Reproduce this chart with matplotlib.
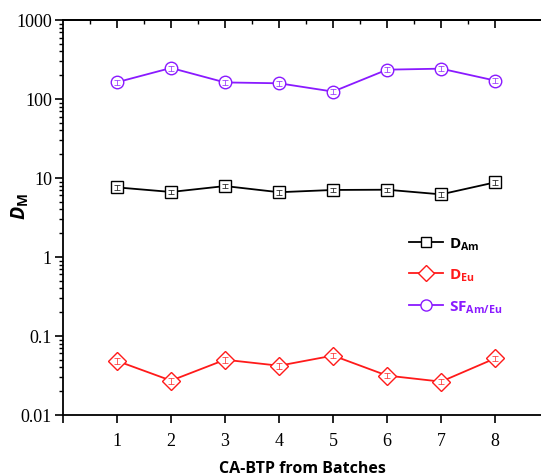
import numpy as np
import matplotlib.pyplot as plt
from matplotlib.lines import Line2D
from matplotlib.ticker import LogLocator, NullFormatter, FixedLocator

plt.rcParams["mathtext.fontset"] = "custom"
plt.rcParams["mathtext.rm"] = "Open Sans"
plt.rcParams["mathtext.bf"] = "Open Sans:bold"
plt.rcParams["mathtext.it"] = "Open Sans:italic"
plt.rcParams["mathtext.bfit"] = "Open Sans:bold:italic"

# ── data ──
batches = [1, 2, 3, 4, 5, 6, 7, 8]
d_am = [7.6, 6.65, 7.9, 6.6, 7.05, 7.1, 6.2, 8.8]
d_am_err = [0.5, 0.45, 0.5, 0.45, 0.45, 0.45, 0.4, 0.55]
d_eu = [0.0483, 0.0272, 0.050, 0.042, 0.0564, 0.0315, 0.0264, 0.052]
d_eu_err = [0.004, 0.0022, 0.004, 0.0034, 0.0045, 0.0025, 0.0021, 0.0042]
sf = [163, 247, 162, 158, 124, 235, 242, 171]
sf_err = [12, 18, 12, 12, 9, 17, 18, 13]

ytick_vals = [0.01, 0.1, 1, 10, 100, 1000]
ytick_labels = ["0.01", "0.1", "1", "10", "100", "1000"]

series = [
    (d_am, d_am_err, "black", "s", 8, r"$\mathbf{D_{Am}}$"),
    (d_eu, d_eu_err, "#ff1a1a", "D", 9, r"$\mathbf{D_{Eu}}$"),
    (sf, sf_err, "#8a1aff", "o", 9, r"$\mathbf{SF_{Am/Eu}}$"),
]

fig = plt.figure(figsize=(5.41, 4.77), dpi=100)
ax = fig.add_axes([0.1165, 0.128, 0.8835, 0.828])

for vals, err, col, mk, ms, lab in series:
    ax.plot(batches, vals, "-", color=col, lw=1.3, zorder=2)
    ax.plot(batches, vals, mk, ms=ms, mfc="white", mec=col, mew=1.0, zorder=3)
    ax.errorbar(batches, vals, yerr=err, fmt="none", ecolor=col, elinewidth=0.7,
                capsize=2.5, capthick=0.7, alpha=0.7, zorder=4)

ax.set_yscale("log")
ax.set_ylim(0.01, 1000)
ax.set_xlim(0, 8.85)
ax.yaxis.set_major_locator(FixedLocator(ytick_vals))
ax.set_yticklabels(ytick_labels)
ax.yaxis.set_minor_locator(LogLocator(base=10, subs=np.arange(2, 10)))
ax.yaxis.set_minor_formatter(NullFormatter())
ax.set_xticks([0] + batches)
ax.set_xticklabels([""] + [str(b) for b in batches])

ax.spines["right"].set_visible(False)
for s in ("left", "bottom", "top"):
    ax.spines[s].set_linewidth(1.3)
ax.tick_params(axis="both", labelsize=13, labelfontfamily="Liberation Serif")
ax.tick_params(axis="y", which="major", direction="out", length=6, width=1.2, pad=2)
ax.tick_params(axis="y", which="minor", direction="out", length=3, width=1.0)
ax.tick_params(axis="x", which="major", direction="out", length=6, width=1.2, pad=6)

top = ax.secondary_xaxis("top")
top.set_xticks(batches)
top.set_xticks(np.array(batches) - 0.5, minor=True)
top.tick_params(which="major", direction="in", length=6, width=1.2, labeltop=False)
top.tick_params(which="minor", direction="in", length=3, width=1.0)
top.spines["top"].set_linewidth(1.3)

ax.set_xlabel("CA-BTP from Batches", family="Open Sans", fontweight="bold",
              fontsize=11.5, labelpad=8)
ax.set_ylabel(r"$\mathbfit{D}_{\mathbf{M}}$", fontsize=14)
ax.yaxis.set_label_coords(-0.07, 0.53)

handles = [Line2D([], [], color=col, lw=1.3, marker=mk, ms=ms - 1, mfc="white",
                  mec=col, mew=1.0) for _, _, col, mk, ms, _ in series]
leg = ax.legend(handles, [s[5] for s in series], loc="upper left",
                bbox_to_anchor=(0.695, 0.49), frameon=False, handlelength=2.2,
                labelspacing=1.0, fontsize=11, handletextpad=0.4)
for txt, (_, _, col, _, _, _) in zip(leg.get_texts(), series):
    txt.set_color(col)

fig.savefig("out.png", dpi=100)
